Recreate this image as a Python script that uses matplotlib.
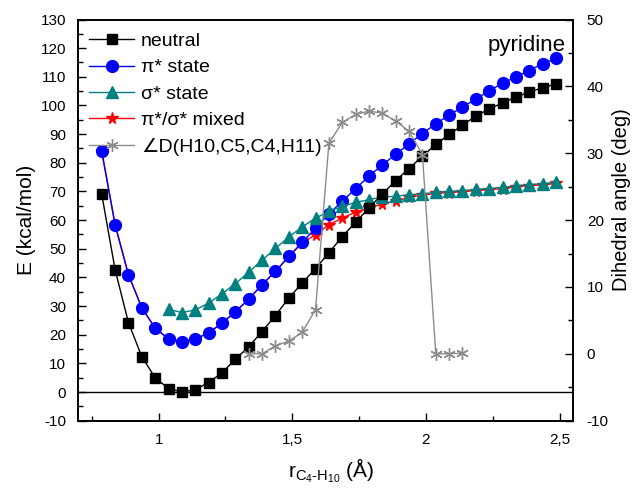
import matplotlib
matplotlib.use('Agg')
import matplotlib.pyplot as plt
from matplotlib.ticker import MultipleLocator

plt.rcParams['font.family'] = ['Liberation Sans', 'DejaVu Sans']
plt.rcParams['mathtext.fontset'] = 'custom'
plt.rcParams['mathtext.rm'] = 'Liberation Sans'
plt.rcParams['mathtext.it'] = 'Liberation Sans'
plt.rcParams['axes.unicode_minus'] = False

# C4-H10 distance (A)
r = [0.787, 0.837, 0.887, 0.937, 0.987, 1.037, 1.087, 1.137, 1.187, 1.237,
     1.287, 1.337, 1.387, 1.437, 1.487, 1.537, 1.587, 1.637, 1.687, 1.737,
     1.787, 1.837, 1.887, 1.937, 1.987, 2.037, 2.087, 2.137, 2.187, 2.237,
     2.287, 2.337, 2.387, 2.437, 2.487]

e_neutral = [69.0, 42.7, 24.2, 12.3, 5.0, 1.2, 0.0, 0.8, 3.3, 6.7,
             11.4, 15.8, 21.1, 26.7, 32.8, 38.0, 43.1, 48.6, 54.2, 59.3,
             64.2, 69.1, 73.8, 78.0, 82.3, 86.4, 89.9, 93.1, 96.3, 98.8,
             100.9, 102.9, 104.7, 106.2, 107.6]

e_pi = [84.0, 58.4, 40.9, 29.4, 22.3, 18.5, 17.6, 18.4, 20.7, 24.0,
        28.0, 32.4, 37.5, 42.1, 47.3, 52.2, 57.2, 62.2, 66.5, 71.0,
        75.3, 79.3, 82.9, 86.6, 90.2, 93.6, 96.6, 99.5, 102.2, 105.2,
        107.7, 110.0, 112.2, 114.6, 116.4]

r_sigma = r[5:]
e_sigma = [28.9, 27.7, 28.7, 31.0, 34.3, 37.8, 41.8, 46.0, 50.1, 54.1,
           57.6, 60.7, 63.0, 64.8, 66.2, 67.1, 68.1, 68.3, 68.9, 69.1,
           69.7, 70.0, 70.3, 70.7, 71.0, 71.4, 72.0, 72.4, 72.7, 73.2]

e_mixed = [84.0, 58.4, 40.9, 29.4, 22.3, 18.5, 17.6, 18.4, 20.7, 24.0,
           28.0, 32.4, 37.5, 42.1, 47.3, 52.0, 54.9, 58.4, 60.7, 62.8,
           64.2, 65.6, 66.8, 67.9, 68.7, 69.3, 69.6, 69.9, 70.3, 70.6,
           71.0, 71.6, 72.0, 72.3, 72.8]

r_dih = r[11:28]
dihedral = [0.0, 0.0, 1.2, 1.9, 3.2, 6.6, 31.5, 34.6, 35.8, 36.3,
            36.0, 34.8, 33.3, 29.8, 0.0, 0.0, 0.1]

fig = plt.figure(figsize=(6.33, 4.88), dpi=100)
ax = fig.add_axes([0.124, 0.138, 0.781, 0.822])
ax2 = ax.twinx()

ax.axhline(0, color='black', lw=1.0, zorder=1)

l_mix, = ax.plot(r, e_mixed, '-*', color='red', lw=1.0, ms=8.5, zorder=2,
                 label='\u03c0*/\u03c3* mixed')
l_pi, = ax.plot(r, e_pi, '-o', color='blue', lw=1.0, ms=8.5, zorder=3,
                label='\u03c0* state')
l_sig, = ax.plot(r_sigma, e_sigma, '-^', color='#008080', lw=1.0, ms=8,
                 zorder=4, label='\u03c3* state')
l_neu, = ax.plot(r, e_neutral, '-s', color='black', lw=1.0, ms=6.5, zorder=5,
                 label='neutral')
l_dih, = ax2.plot(r_dih, dihedral, '-', color='#8c8c8c', lw=1.0,
                  marker=(6, 2, 0), ms=9, mew=1.0,
                  label='\u2220D(H10,C5,C4,H11)')

ax.set_xlim(0.70, 2.55)
ax.set_ylim(-10, 130)
ax2.set_ylim(-10, 50)

ax.xaxis.set_major_locator(MultipleLocator(0.5))
ax.xaxis.set_minor_locator(MultipleLocator(0.25))
ax.yaxis.set_major_locator(MultipleLocator(10))
ax.yaxis.set_minor_locator(MultipleLocator(5))
ax2.yaxis.set_major_locator(MultipleLocator(10))
ax2.yaxis.set_minor_locator(MultipleLocator(5))

# decimal comma on the x ticks
ax.xaxis.set_major_formatter(plt.FuncFormatter(lambda v, p: f'{v:g}'.replace('.', ',')))

ax.tick_params(axis='both', which='major', direction='in', length=6, width=1,
               labelsize=11, pad=9, top=False)
ax.tick_params(axis='both', which='minor', direction='in', length=3.5, width=1,
               top=False)
ax.tick_params(axis='y', which='both', right=False)
ax2.tick_params(axis='y', which='major', direction='in', length=6, width=1,
                labelsize=11, pad=10)
ax2.tick_params(axis='y', which='minor', direction='in', length=3.5, width=1)

for a in (ax, ax2):
    for s in a.spines.values():
        s.set_linewidth(1.2)

ax.set_ylabel('E (kcal/mol)', fontsize=15)
ax.yaxis.set_label_coords(-0.086, 0.5)
ax2.set_ylabel('Dihedral angle (deg)', fontsize=14.5)
ax2.yaxis.set_label_coords(1.08, 0.55)
ax.set_xlabel(r'r$_{\mathregular{C_4\text{-}H_{10}}}$ (Å)', fontsize=15)
ax.xaxis.set_label_coords(0.51, -0.088)

ax2.text(0.986, 0.922, 'pyridine', transform=ax.transAxes, ha='right',
         va='baseline', fontsize=16)

ax2.legend(handles=[l_neu, l_pi, l_sig, l_mix, l_dih], loc='upper left',
           bbox_to_anchor=(0.022, 0.968), frameon=False, fontsize=14,
           numpoints=1, handlelength=2.3, handletextpad=0.35,
           labelspacing=0.45, borderpad=0, borderaxespad=0)

fig.savefig('out.png', dpi=100)
